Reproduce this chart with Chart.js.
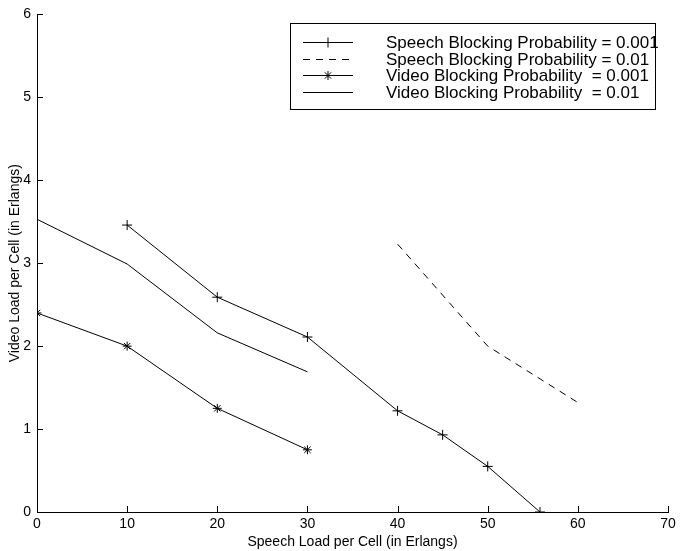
<!DOCTYPE html>
<html>
<head>
<meta charset="utf-8">
<script src="https://cdn.jsdelivr.net/npm/chart.js@4.4.1/dist/chart.umd.min.js"></script>
<style>
  html, body { margin: 0; padding: 0; background: #fff; }
  #wrap { width: 680px; height: 551px; position: relative; }
</style>
</head>
<body>
<div id="wrap"><canvas id="chart"></canvas></div>
<script>
// data
const speech001X = [10, 20, 30, 40, 45, 50, 55.8];
const speech001Y = [3.46, 2.59, 2.11, 1.22, 0.93, 0.55, 0];
const speech01X = [40, 50, 60];
const speech01Y = [3.23, 2.0, 1.32];
const video001X = [0, 10, 20, 30];
const video001Y = [2.4, 2.0, 1.25, 0.75];
const video01X = [0, 10, 20, 30];
const video01Y = [3.53, 2.99, 2.16, 1.69];

const xTicks = [0, 10, 20, 30, 40, 50, 60, 70];
const yTicks = [0, 1, 2, 3, 4, 5, 6];

const labels = [
  'Speech Blocking Probability = 0.001',
  'Speech Blocking Probability = 0.01',
  'Video Blocking Probability  = 0.001',
  'Video Blocking Probability  = 0.01'
];

const toPoints = (xs, ys) => xs.map((x, i) => ({ x: x, y: ys[i] }));
const FONT = '"Liberation Sans", Arial, sans-serif';

// inward ticks, matlab style
const innerTicks = {
  id: 'innerTicks',
  afterDraw(chart) {
    const ctx = chart.ctx;
    const xs = chart.scales.x, ys = chart.scales.y;
    const a = chart.chartArea;
    ctx.save();
    ctx.strokeStyle = '#000';
    ctx.lineWidth = 1;
    ctx.beginPath();
    xTicks.forEach(v => {
      const px = Math.round(xs.getPixelForValue(v)) + 0.5;
      ctx.moveTo(px, a.bottom);
      ctx.lineTo(px, a.bottom - 6);
    });
    yTicks.forEach(v => {
      const py = Math.round(ys.getPixelForValue(v)) + 0.5;
      ctx.moveTo(a.left, py);
      ctx.lineTo(a.left + 6, py);
    });
    ctx.stroke();
    ctx.restore();
  }
};

// boxed legend inside the plot, top right
const boxLegend = {
  id: 'boxLegend',
  afterDraw(chart) {
    const ctx = chart.ctx;
    const bx = 290, by = 23, bw = 365, bh = 86;
    ctx.save();
    ctx.fillStyle = '#fff';
    ctx.fillRect(bx, by, bw, bh);
    ctx.font = '17px ' + FONT;
    ctx.textBaseline = 'middle';
    ctx.fillStyle = '#000';
    chart.data.datasets.forEach((ds, i) => {
      const y = Math.round(42 + i * 16.7) + 0.5;
      ctx.save();
      ctx.strokeStyle = '#000';
      ctx.lineWidth = 1;
      ctx.setLineDash(ds.borderDash || []);
      ctx.beginPath();
      ctx.moveTo(303, y);
      ctx.lineTo(353, y);
      ctx.stroke();
      ctx.restore();
      if (ds.pointStyle && ds.pointRadius > 0) {
        Chart.helpers.drawPoint(ctx, {
          pointStyle: ds.pointStyle,
          radius: ds.pointRadius,
          borderWidth: 1
        }, 328, y);
      }
      ctx.fillText(labels[i], 386, y + 1);
    });
    ctx.strokeStyle = '#000';
    ctx.lineWidth = 1;
    ctx.strokeRect(bx + 0.5, by + 0.5, bw, bh);
    ctx.restore();
  }
};

const common = {
  showLine: true,
  borderColor: '#000',
  backgroundColor: '#000',
  borderWidth: 1,
  pointBorderColor: '#000',
  pointBorderWidth: 1,
  tension: 0
};

new Chart(document.getElementById('chart'), {
  type: 'scatter',
  data: {
    datasets: [
      Object.assign({}, common, { label: labels[0], data: toPoints(speech001X, speech001Y), pointStyle: 'cross', pointRadius: 5 }),
      Object.assign({}, common, { label: labels[1], data: toPoints(speech01X, speech01Y), pointRadius: 0, borderDash: [7, 6] }),
      Object.assign({}, common, { label: labels[2], data: toPoints(video001X, video001Y), pointStyle: 'star', pointRadius: 4.5 }),
      Object.assign({}, common, { label: labels[3], data: toPoints(video01X, video01Y), pointRadius: 0 })
    ]
  },
  options: {
    responsive: true,
    maintainAspectRatio: false,
    animation: false,
    layout: { padding: { top: 13, right: 12, left: 0, bottom: 0 } },
    plugins: {
      legend: { display: false },
      tooltip: { enabled: false }
    },
    scales: {
      x: {
        type: 'linear',
        min: 0, max: 70,
        afterBuildTicks: s => { s.ticks = xTicks.map(v => ({ value: v })); },
        afterFit: s => { s.height = 39; },
        grid: { display: false, drawTicks: false, tickLength: 0 },
        border: { display: true, color: '#000', width: 1 },
        ticks: { color: '#000', font: { family: FONT, size: 14 }, padding: 4, maxRotation: 0 },
        title: { display: true, text: 'Speech Load per Cell (in Erlangs)', color: '#000', font: { family: FONT, size: 14 }, padding: 0 }
      },
      y: {
        type: 'linear',
        min: 0, max: 6,
        afterBuildTicks: s => { s.ticks = yTicks.map(v => ({ value: v })); },
        afterFit: s => { s.width = 37; },
        grid: { display: false, drawTicks: false, tickLength: 0 },
        border: { display: true, color: '#000', width: 1 },
        ticks: { color: '#000', font: { family: FONT, size: 14 }, padding: 6 },
        title: { display: true, text: 'Video Load per Cell (in Erlangs)', color: '#000', font: { family: FONT, size: 14 }, padding: { top: 7, bottom: 0 } }
      }
    }
  },
  plugins: [innerTicks, boxLegend]
});
</script>
</body>
</html>
